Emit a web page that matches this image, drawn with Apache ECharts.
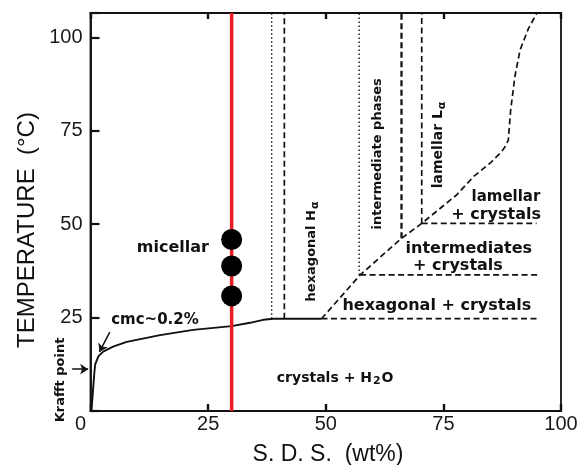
<!DOCTYPE html>
<html><head><meta charset="utf-8">
<script src="https://cdn.jsdelivr.net/npm/echarts@6/dist/echarts.min.js"></script>
<style>html,body{margin:0;padding:0;background:#fff}#c{width:582px;height:465px}</style>
</head><body><div id="c"></div>
<script>
// ---------- data ----------
const xTicks = [0, 25, 50, 75, 100];
const yTicks = [0, 25, 50, 75, 100];
const xRange = [0, 100];
const yRange = [0, 106.5];
const sampleLine = [[30, 0], [30, 106.5]];
const samplePoints = [[30, 45.9], [30, 38.8], [30, 30.8]];
const solubilityCurve = [[0.2, 0], [0.5, 5], [0.8, 10], [1.0, 12.5], [1.7, 14.7], [2.7, 15.9], [4.8, 17.2], [7.7, 18.5], [14.8, 20.3], [21.8, 21.7], [30, 22.7], [33.9, 23.6], [36.7, 24.4], [38.9, 24.7], [49.1, 24.7]];
const liquidCrystalBoundary = [[49.1, 24.7], [57.3, 36.4], [66.1, 46.2], [70.4, 50.2], [77.8, 57.8], [81.4, 62.7], [84.9, 66.3], [87.4, 69.4], [88.1, 70.7], [88.8, 72.5], [89.3, 80.5], [90.2, 89.5], [91.3, 96.6], [93.1, 102.4], [94.9, 106.5]];
const hexCrystalLine = [[49.1, 24.7], [95.5, 24.7]];
const intermCrystalLine = [[57.3, 36.4], [95.5, 36.4]];
const lamCrystalLine = [[70.4, 50.2], [94.8, 50.2]];
const dottedVerticalX = [38.5, 57.1];
const dottedVerticalBottom = [24.7, 36.4];
const dashedVerticalX = [41.2, 66.1, 70.4];
const dashedVerticalBottom = [24.7, 46.2, 50.2];
const annotationTexts = ['micellar', 'hexagonal H{a|α}', 'intermediate phases', 'lamellar L{a|α}', 'lamellar', '+ crystals', 'intermediates', '+ crystals', 'hexagonal + crystals', 'crystals + H{s|2}O', 'cmc~0.2%', 'Krafft point'];
const annotationCoords = [[17.5, 43.6], [46.9, 42.7], [61.1, 68.8], [73.9, 71.2], [88.3, 57.3], [86.2, 52.4], [80.4, 43.4], [78.1, 38.8], [73.6, 28.1], [52, 8.8], [13.7, 24.4], [-6.3, 8.3]];
const arrowSegments = [[[-3.9, 11.2], [-0.5, 11.2]], [[4.1, 21.1], [1.9, 15.8]]];

// ---------- styles (not data) ----------
const annotationStyle = [
  {fontSize: 16}, {fontSize: 13, rotate: 90}, {fontSize: 13, rotate: 90}, {fontSize: 14, rotate: 90},
  {fontSize: 15}, {fontSize: 16}, {fontSize: 16}, {fontSize: 16}, {fontSize: 16}, {fontSize: 14},
  {fontSize: 15}, {fontSize: 13, rotate: 90}
];
const INK = '#111111';
const dashed = [6, 3.5];
const dotted = [1.5, 2.5];

function lineSeries(data, type, width) {
  return {type: 'line', data: data, showSymbol: false, symbol: 'none', silent: true, animation: false,
    lineStyle: {color: INK, width: width || 1.6, type: type || 'solid', opacity: 1}, z: 3};
}

const series = [];
series.push(lineSeries(solubilityCurve, 'solid', 1.9));
series.push(lineSeries(liquidCrystalBoundary, dashed, 1.7));
series.push(lineSeries(hexCrystalLine, dashed, 1.7));
series.push(lineSeries(intermCrystalLine, dashed, 1.7));
series.push(lineSeries(lamCrystalLine, dashed, 1.7));
dottedVerticalX.forEach((x, i) => series.push(lineSeries([[x, dottedVerticalBottom[i]], [x, yRange[1]]], dotted, 1.4)));
dashedVerticalX.forEach((x, i) => series.push(lineSeries([[x, dashedVerticalBottom[i]], [x, yRange[1]]], dashed, i === 1 ? 2.3 : 1.7)));
series.push({type: 'line', data: sampleLine, symbol: 'none', silent: true, animation: false,
  lineStyle: {color: '#ec1c24', width: 3.5, opacity: 1}, z: 5});
series.push({type: 'scatter', data: samplePoints, symbol: 'circle', symbolSize: 21, animation: false,
  itemStyle: {color: '#000', opacity: 1}, z: 6});
series.push({type: 'lines', coordinateSystem: 'cartesian2d', clip: false, animation: false,
  data: arrowSegments.map(s => ({coords: s})), symbol: ['none', 'arrow'], symbolSize: 8,
  lineStyle: {color: INK, width: 1.5, opacity: 1}, z: 4});
series.push({type: 'scatter', clip: false, animation: false, silent: true, symbolSize: 1,
  itemStyle: {color: 'rgba(0,0,0,0)', opacity: 1}, z: 7,
  label: {show: true, position: 'inside', color: INK, opacity: 1, fontFamily: 'DejaVu Sans', fontWeight: 'bold',
    rich: {
      a: {fontFamily: 'DejaVu Sans', fontWeight: 'bold', fontSize: 11, color: INK, verticalAlign: 'bottom', padding: [7, 0, 0, 1]},
      s: {fontFamily: 'DejaVu Sans', fontWeight: 'bold', fontSize: 11, color: INK, verticalAlign: 'bottom', padding: [7, 1, 0, 1]}
    }},
  data: annotationTexts.map((t, i) => ({value: annotationCoords[i],
    label: Object.assign({formatter: t}, annotationStyle[i])}))
});

const chart = echarts.init(document.getElementById('c'), null, {renderer: 'canvas'});
const tickFont = {fontFamily: 'Liberation Sans, Arial, sans-serif', fontSize: 20, color: '#1a1a1a'};
chart.setOption({
  backgroundColor: '#fff',
  animation: false,
  grid: {left: 90.5, right: 21, top: 13, bottom: 54, show: true, borderColor: INK, borderWidth: 1.8, backgroundColor: 'transparent'},
  xAxis: [{
    type: 'value', min: xRange[0], max: xRange[1], interval: 25, position: 'bottom',
    axisLine: {show: true, onZero: false, lineStyle: {color: INK, width: 1.8}},
    axisTick: {show: true, inside: true, length: 7, lineStyle: {color: INK, width: 2.4}},
    splitLine: {show: false},
    axisLabel: Object.assign({margin: 3, formatter: v => xTicks.indexOf(v) === 0 ? '{z|0}' : (xTicks.indexOf(v) >= 0 ? String(v) : ''),
      rich: {z: {fontFamily: 'Liberation Sans, Arial, sans-serif', fontSize: 20, color: '#1a1a1a', padding: [0, 20, 0, 0]}}}, tickFont)
  }, {
    type: 'value', min: xRange[0], max: xRange[1], interval: 25, position: 'top',
    axisLine: {show: true, onZero: false, lineStyle: {color: INK, width: 1.8}},
    axisTick: {show: true, inside: true, length: 6, lineStyle: {color: INK, width: 2.4}},
    splitLine: {show: false}, axisLabel: {show: false}
  }],
  yAxis: {
    type: 'value', min: yRange[0], max: yRange[1], interval: 25,
    axisLine: {show: true, onZero: false, lineStyle: {color: INK, width: 1.8}},
    axisTick: {show: true, inside: true, length: 9, lineStyle: {color: INK, width: 2.2}},
    splitLine: {show: false},
    axisLabel: Object.assign({margin: 8, formatter: v => (yTicks.indexOf(v) > 0 ? String(v) : '')}, tickFont)
  },
  graphic: [
    {type: 'text', x: 27, y: 230, rotation: Math.PI / 2,
      style: {text: 'TEMPERATURE  (°C)', fontFamily: 'Liberation Sans, Arial, sans-serif', fontSize: 24, fill: '#111', align: 'center', verticalAlign: 'middle'}},
    {type: 'text', x: 328, y: 455,
      style: {text: 'S. D. S.  (wt%)', fontFamily: 'Liberation Sans, Arial, sans-serif', fontSize: 23, fill: '#111', align: 'center', verticalAlign: 'middle'}}
  ],
  series: series
});
</script>
</body></html>
